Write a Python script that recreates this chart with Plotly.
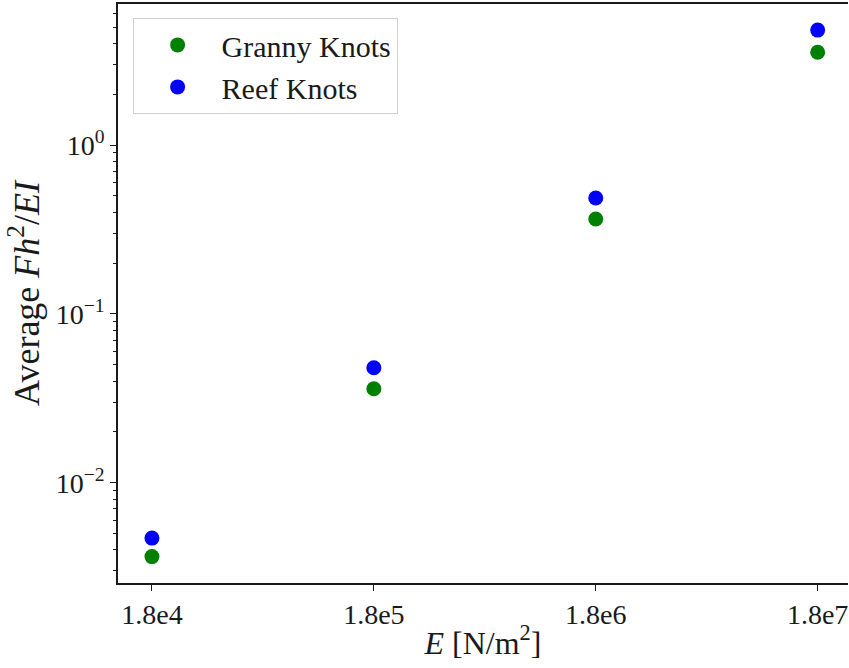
import plotly.graph_objects as go

E_values = [1.8e4, 1.8e5, 1.8e6, 1.8e7]
E_labels = ["1.8e4", "1.8e5", "1.8e6", "1.8e7"]
granny = [0.00365, 0.036, 0.365, 3.55]
reef = [0.0047, 0.048, 0.486, 4.8]

y_tickvals = [1e-2, 1e-1, 1e0]
y_ticktext = ["10<sup>−2</sup>", "10<sup>−1</sup>", "10<sup>0</sup>"]
y_minor = [m * 10.0 ** p for p in (-3, -2, -1, 0) for m in range(2, 10)]

FONT = "Liberation Serif"

fig = go.Figure()
fig.add_trace(go.Scatter(x=E_values, y=granny, mode="markers", name="Granny Knots",
                         marker=dict(color="green", size=15)))
fig.add_trace(go.Scatter(x=E_values, y=reef, mode="markers", name="Reef Knots",
                         marker=dict(color="blue", size=15)))

fig.update_layout(
    width=849, height=668,
    margin=dict(l=118, r=1, t=4, b=85),
    paper_bgcolor="white", plot_bgcolor="white",
    font=dict(family=FONT, size=28, color="#1a1a1a"),
    showlegend=True,
    legend=dict(x=0.02, y=0.976, xanchor="left", yanchor="top",
                bordercolor="#d0d0d0", borderwidth=1, bgcolor="rgba(255,255,255,0.8)",
                font=dict(family=FONT, size=30, color="#1a1a1a"),
                itemwidth=78),
    xaxis=dict(type="log", range=[4.1023, 7.392],
               tickvals=E_values, ticktext=E_labels,
               tickfont=dict(size=28),
               ticks="outside", ticklen=6, tickcolor="#1a1a1a",
               showline=True, linecolor="#1a1a1a", linewidth=1.5, mirror=True,
               showgrid=False, zeroline=False,
               title=dict(text="<i>E</i> [N/m<sup>2</sup>]", font=dict(size=32), standoff=2)),
    yaxis=dict(type="log", range=[-2.594, 0.836],
               tickvals=y_tickvals, ticktext=y_ticktext,
               tickfont=dict(size=28),
               ticks="outside", ticklen=6, tickcolor="#1a1a1a",
               showline=True, linecolor="#1a1a1a", linewidth=1.5, mirror=False,
               showgrid=False, zeroline=False,
               minor=dict(tickvals=y_minor, ticks="outside", ticklen=3, tickcolor="#1a1a1a", showgrid=False),
               title=dict(text="Average <i>Fh</i><sup>2</sup>/<i>EI</i>", font=dict(size=36), standoff=5)),
)

fig.write_html("out.html")
